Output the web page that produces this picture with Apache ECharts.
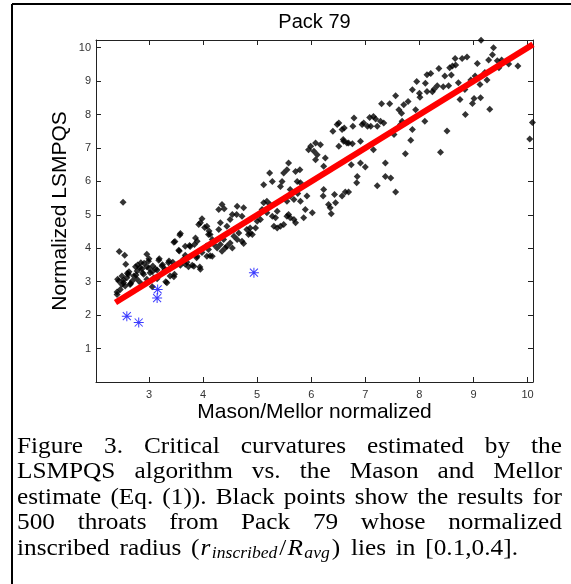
<!DOCTYPE html>
<html><head><meta charset="utf-8">
<script src="https://cdn.jsdelivr.net/npm/echarts@6/dist/echarts.min.js"></script>
<style>html,body{margin:0;padding:0;background:#fff;} #c{width:571px;height:584px;}</style>
</head><body><div id="c"></div>
<script>
// ---------- data ----------
const titleText = 'Pack 79';
const xName = 'Mason/Mellor normalized';
const yName = 'Normalized LSMPQS';
const xTicks = [3, 4, 5, 6, 7, 8, 9, 10];
const yTicks = [1, 2, 3, 4, 5, 6, 7, 8, 9, 10];

const blackPoints = [
 [2.52,5.38],[2.45,3.90],[2.55,3.79],[2.57,3.52],[2.42,3.07],[2.62,3.22],[2.72,3.17],[2.75,3.45],[2.85,3.57],[2.96,3.82],
 [2.99,3.61],[3.07,3.47],[3.18,3.64],[3.15,3.35],[3.24,3.47],[3.30,3.37],[3.36,3.57],[3.43,3.45],[3.39,3.17],[3.46,3.15],
 [3.31,3.00],[3.55,3.94],[3.58,4.44],[3.46,4.18],[3.67,4.06],[3.75,4.08],[3.84,4.11],[3.89,4.21],[3.95,4.76],[3.98,4.88],
 [4.07,4.66],[4.10,4.41],[3.67,3.79],[3.67,3.52],[3.73,3.45],[3.80,3.49],[3.95,3.37],[3.89,3.76],[3.98,3.87],[4.07,3.76],
 [4.10,3.96],[3.58,3.49],[2.47,2.77],[2.53,2.97],[2.65,2.92],[2.59,3.12],[2.50,3.17],[2.69,3.02],[2.78,3.07],[2.84,2.97],
 [2.90,3.22],[2.96,3.07],[3.02,3.27],[3.09,3.12],[3.15,3.09],[3.06,2.85],[2.41,2.69],[2.56,2.87],[2.78,3.32],[2.87,3.39],
 [2.96,3.45],[2.41,2.62],[2.44,3.02],[2.50,2.92],[2.53,3.05],[2.60,3.25],[2.63,3.30],[2.66,2.95],[2.76,3.20],[2.79,3.50],
 [2.83,3.42],[2.88,3.27],[2.91,3.55],[3.00,3.69],[3.00,3.40],[3.06,3.30],[3.12,3.38],[3.19,3.69],[3.25,3.51],[3.29,3.34],
 [3.33,2.97],[3.37,3.62],[3.44,3.58],[3.47,3.22],[3.48,4.20],[3.56,3.92],[3.57,4.40],[3.64,3.68],[3.70,3.58],[3.76,4.05],
 [3.83,3.46],[3.94,3.44],[3.88,3.72],[3.86,4.31],[3.92,4.71],[4.03,4.62],[4.11,4.52],[4.06,4.07],[4.13,3.78],
 [4.13,4.41],[4.17,4.26],[4.20,4.11],[4.17,3.76],[4.26,4.01],[4.32,4.11],[4.38,4.26],[4.41,4.01],[4.35,3.91],[4.29,5.16],
 [4.35,5.31],[4.39,5.18],[4.32,4.76],[4.44,4.66],[4.50,4.86],[4.54,5.01],[4.62,5.01],[4.72,4.96],[4.75,5.21],[4.63,5.26],
 [4.57,4.56],[4.66,4.46],[4.57,4.36],[4.63,4.26],[4.72,4.21],[4.75,4.14],[4.50,4.16],[4.44,4.06],[4.54,4.01],[4.81,4.56],
 [4.87,4.46],[4.91,4.41],[4.87,4.61],[4.97,4.61],[5.00,4.81],[5.06,4.86],[5.03,5.01],[5.09,5.16],[5.12,5.36],[5.18,5.41],
 [5.24,5.31],[5.18,5.06],[5.28,4.96],[5.34,4.91],[5.37,5.11],[5.31,4.66],[5.37,4.61],[5.43,4.66],[5.49,4.71],[5.55,4.96],
 [5.61,4.91],[5.68,4.86],[5.71,4.76],[5.58,5.01],[5.55,5.41],[5.61,5.56],[5.68,5.46],[5.75,5.64],[5.80,5.41],[5.92,5.56],
 [5.89,5.16],[5.86,4.91],[6.02,5.06],[5.74,6.00],[5.80,5.96],[5.71,6.30],[5.79,6.35],[5.58,6.55],[5.49,6.25],[5.55,6.35],
 [5.46,6.00],[5.43,5.85],[5.28,6.00],[5.23,6.25],[5.61,5.76],[5.99,7.05],[6.08,7.15],[5.95,6.95],[6.05,6.90],[6.11,6.80],
 [6.08,6.65],[5.12,5.90],[4.84,4.41],[4.29,4.56],
 [6.17,7.10],[6.26,6.70],[6.23,6.45],[6.23,5.76],[6.22,5.56],[6.32,5.31],[6.35,5.21],[6.37,5.03],[6.45,5.36],[6.43,5.61],
 [6.57,5.56],[6.63,5.68],[6.69,5.68],[6.51,7.05],[6.60,7.20],[6.69,7.15],[6.76,7.13],[6.59,7.25],[6.40,7.50],[6.48,7.70],
 [6.57,7.55],[6.61,7.60],[6.79,7.90],[6.77,7.65],[6.91,7.20],[6.94,7.70],[6.97,7.75],[7.04,7.65],[7.08,7.91],[7.15,7.94],
 [7.19,7.87],[7.28,7.80],[7.34,7.75],[7.22,7.65],[7.10,7.65],[7.30,8.32],[7.45,8.32],[7.56,8.56],[7.62,8.14],[7.67,8.04],
 [7.71,8.29],[7.79,8.39],[7.68,7.80],[7.65,7.70],[7.87,8.74],[7.95,8.99],[8.00,8.64],[8.01,8.52],[7.93,8.14],[8.11,8.94],
 [8.14,8.69],[8.14,9.19],[8.10,7.80],[7.87,7.55],[7.84,7.23],[7.74,6.83],[7.37,6.55],[7.53,7.40],[7.15,6.95],[6.91,6.55],
 [7.00,6.43],[6.74,6.50],[6.66,7.15],[7.37,6.15],[7.47,6.10],[7.22,5.87],[7.56,5.68],[6.85,6.15],[6.84,5.96],[6.51,7.75],
 [9.14,10.22],[9.37,10.00],[9.35,9.79],[9.28,9.63],[9.07,9.53],[8.88,9.72],[8.79,9.68],[8.66,9.68],[8.67,9.48],[8.61,9.45],
 [8.56,9.40],[8.36,9.38],[8.21,9.23],[8.47,9.15],[8.59,9.18],[8.33,8.86],[8.27,8.76],[8.24,8.68],[8.44,8.83],[8.54,8.86],
 [8.72,8.95],[8.84,8.75],[8.95,9.03],[9.03,9.15],[9.12,8.90],[9.25,9.03],[9.21,9.26],[9.44,9.61],[9.52,9.63],[9.65,9.51],
 [9.82,9.45],[9.47,9.40],[8.75,8.45],[9.01,8.48],[9.13,8.50],[8.98,8.33],[8.85,8.00],[9.30,8.16],[8.51,7.51],[8.39,6.87],
 [10.09,7.76],[10.04,7.27]
];
const bluePoints = [[2.59,1.97],[2.81,1.78],[3.16,2.77],[3.15,2.51],[4.94,3.27]];
const fitX = [2.38, 10.1];
const fitY = [2.38, 10.1];

const captionLines = [
 'Figure 3. Critical curvatures estimated by the',
 'LSMPQS algorithm vs. the Mason and Mellor',
 'estimate (Eq. (1)). Black points show the results for',
 '500 throats from Pack 79 whose normalized'
];
const lastLineBefore = ['inscribed', 'radius'];
const lastLineAfter = ['lies', 'in', '[0.1,0.4].'];
const mathParts = [
 {t:'(', st:'n'}, {t:'r', st:'i'}, {t:'inscribed', st:'s'}, {t:'/', st:'n'},
 {t:'R', st:'i'}, {t:'avg', st:'s'}, {t:')', st:'n'}
];

// ---------- layout ----------
const FAM = '"Liberation Sans", Arial, sans-serif';
const SERIF = '"Liberation Serif", "Times New Roman", serif';
const SX = 1.1;  // horizontal stretch of the caption
const fonts = {
  n: '23px ' + SERIF,
  i: 'italic 23px ' + SERIF,
  s: 'italic 16px ' + SERIF
};
const mctx = document.createElement('canvas').getContext('2d');
function tw(t, f){ mctx.font = f; return mctx.measureText(t).width * SX; }

const graphics = [];
graphics.push({type:'line', shape:{x1:12, y1:4, x2:571, y2:4}, style:{stroke:'#000', lineWidth:2}});
graphics.push({type:'line', shape:{x1:12, y1:4, x2:12, y2:584}, style:{stroke:'#000', lineWidth:2}});
graphics.push({type:'text', x:314.5, y:22, style:{text:titleText, font:'20px ' + FAM, fill:'#000', align:'center', verticalAlign:'middle'}});

const X0 = 17, X1 = 562, X1last = 518;
const baselines = [454, 479.5, 505, 530.5, 556];
const MID = 7.5;
function addText(t, x, y, f){
  graphics.push({type:'text', x:x, y:y, scaleX:SX, style:{text:t, font:f, fill:'#000', align:'left', verticalAlign:'middle'}});
}
captionLines.forEach(function(line, li){
  const words = line.split(' ');
  const ws = words.map(function(w){ return tw(w, fonts.n); });
  const sum = ws.reduce(function(a,b){return a+b;}, 0);
  const gap = (X1 - X0 - sum) / (words.length - 1);
  let x = X0;
  words.forEach(function(w, i){ addText(w, x, baselines[li] - MID, fonts.n); x += ws[i] + gap; });
});
(function(){
  const y = baselines[4] - MID;
  const pad = function(p){ return p.st === 'i' ? 1.5 : (p.st === 's' ? 2 : 1); };
  const mathW = mathParts.reduce(function(a,p){ return a + tw(p.t, fonts[p.st]) + pad(p); }, 0);
  const items = [];
  lastLineBefore.forEach(function(w){ items.push({w: tw(w, fonts.n), draw: function(x){ addText(w, x, y, fonts.n); }}); });
  items.push({w: mathW, draw: function(x){
    mathParts.forEach(function(p){
      const dy = p.st === 's' ? 5 : 0;
      addText(p.t, x, y + dy, fonts[p.st]);
      x += tw(p.t, fonts[p.st]) + pad(p);
    });
  }});
  lastLineAfter.forEach(function(w){ items.push({w: tw(w, fonts.n), draw: function(x){ addText(w, x, y, fonts.n); }}); });
  const sum = items.reduce(function(a,it){return a+it.w;},0);
  const gap = (X1last - X0 - sum) / (items.length - 1);
  let x = X0;
  items.forEach(function(it){ it.draw(x); x += it.w + gap; });
})();

const asterisk = 'path://M9,0L11,0L11,20L9,20Z M0,9L20,9L20,11L0,11Z M2.7,1.3L18.7,17.3L17.3,18.7L1.3,2.7Z M17.3,1.3L18.7,2.7L2.7,18.7L1.3,17.3Z';

const axisCol = '#222';
function xAxisCfg(pos, main){
  return {
    type:'value', position:pos, min:2.02, max:10.1,
    axisLine:{show:true, onZero:false, lineStyle:{color:axisCol, width:1}},
    axisTick:{show:true, inside:true, length:5, customValues:xTicks, lineStyle:{color:axisCol}},
    axisLabel:{show:main, customValues:xTicks, margin:7, fontSize:11, color:'#333', fontFamily:FAM},
    splitLine:{show:false},
    name: main ? xName : '', nameLocation:'middle', nameGap:20, nameMoveOverlap:false,
    nameTextStyle:{fontSize:21, color:'#000', fontFamily:FAM, verticalAlign:'top'}
  };
}
function yAxisCfg(pos, main){
  return {
    type:'value', position:pos, min:0, max:10.23,
    axisLine:{show:true, onZero:false, lineStyle:{color:axisCol, width:1}},
    axisTick:{show:true, inside:true, length:5, customValues:yTicks, lineStyle:{color:axisCol}},
    axisLabel:{show:main, customValues:yTicks, margin:5, fontSize:11, color:'#333', fontFamily:FAM},
    splitLine:{show:false},
    name: main ? yName : '', nameLocation:'middle', nameGap:25, nameRotate:90, nameMoveOverlap:false,
    nameTextStyle:{fontSize:21, color:'#000', fontFamily:FAM}
  };
}

const chart = echarts.init(document.getElementById('c'), null, {renderer:'canvas'});
chart.setOption({
  animation:false,
  backgroundColor:'#fff',
  grid:{left:96, right:38, top:40, bottom:202, containLabel:false},
  xAxis:[xAxisCfg('bottom', true), xAxisCfg('top', false)],
  yAxis:[yAxisCfg('left', true), yAxisCfg('right', false)],
  series:[
    {type:'scatter', xAxisIndex:0, yAxisIndex:0, data:blackPoints, symbol:'diamond', symbolSize:7,
     itemStyle:{color:'#000'}, z:2, silent:true},
    {type:'line', xAxisIndex:0, yAxisIndex:0, data:fitX.map(function(x,i){return [x, fitY[i]];}),
     showSymbol:false, symbol:'none', lineStyle:{color:'#ff0000', width:6}, z:3, silent:true},
    {type:'scatter', xAxisIndex:0, yAxisIndex:0, data:bluePoints, symbol:asterisk, symbolSize:10,
     itemStyle:{color:'#0a0aff'}, z:4, silent:true}
  ],
  graphic:graphics
});
</script></body></html>
